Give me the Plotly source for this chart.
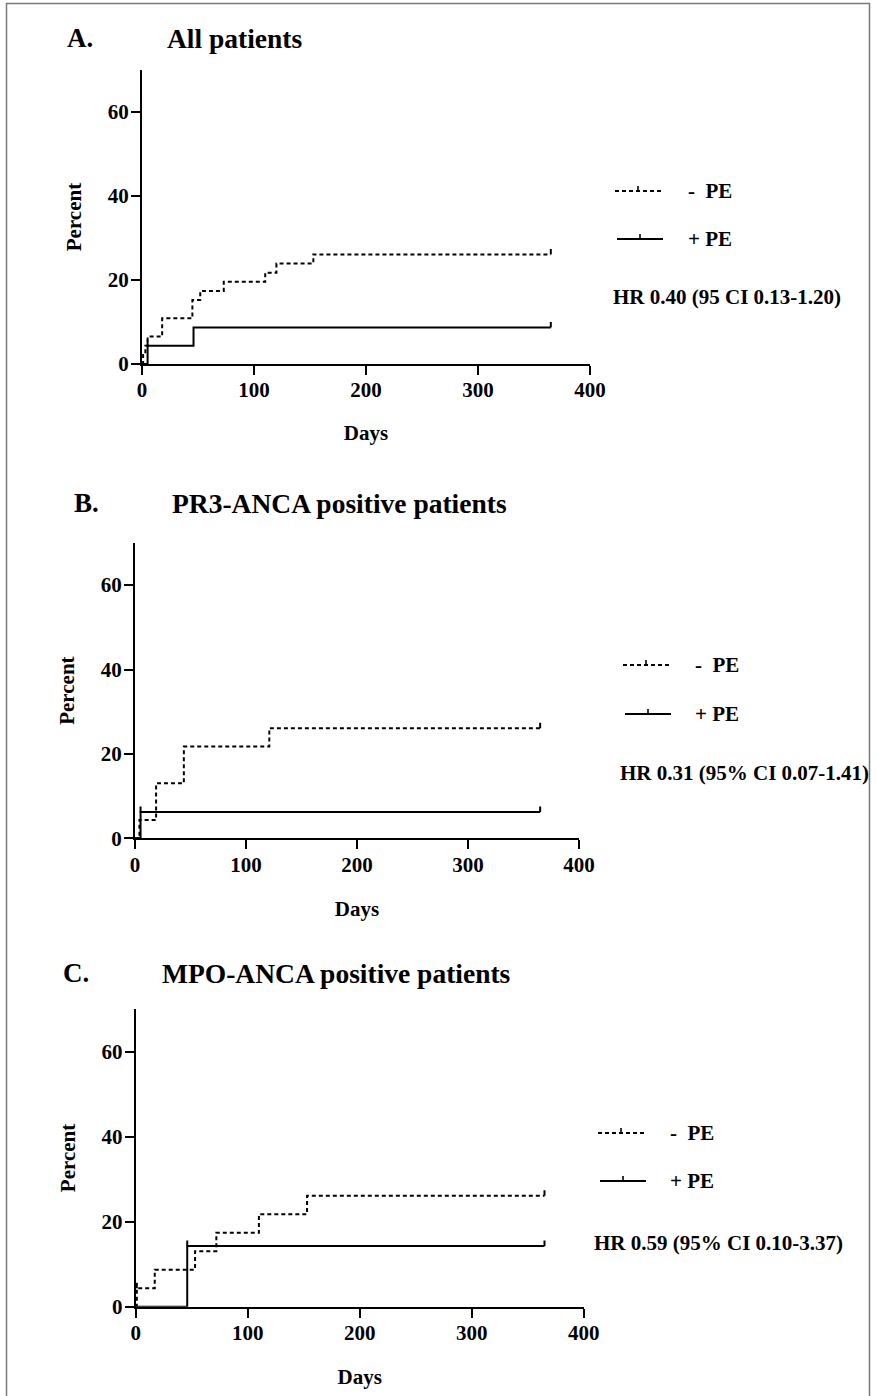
import plotly.graph_objects as go

W, H = 876, 1396

# ---------------- data ----------------
day_ticks = [0, 100, 200, 300, 400]
pct_ticks = [0, 20, 40, 60]

# Panel A - All patients
a_minus_t = [0, 1, 3, 5, 18, 45, 52, 73, 110, 120, 153, 365]
a_minus_y = [0, 2.17, 4.35, 6.52, 10.87, 15.22, 17.39, 19.57, 21.74, 23.91, 26.09, 26.09]
a_plus_t = [0, 5, 46, 365]
a_plus_y = [0, 4.35, 8.70, 8.70]
a_minus_cens = [365]
a_plus_cens = [5, 365]

# Panel B - PR3-ANCA positive
b_minus_t = [0, 4, 19, 44, 121, 365]
b_minus_y = [0, 4.35, 13.04, 21.74, 26.09, 26.09]
b_plus_t = [0, 5, 365]
b_plus_y = [0, 6.25, 6.25]
b_minus_cens = [365]
b_plus_cens = [5, 365]

# Panel C - MPO-ANCA positive
c_minus_t = [0, 1, 17, 53, 72, 110, 153, 365]
c_minus_y = [0, 4.35, 8.70, 13.04, 17.39, 21.74, 26.09, 26.09]
c_plus_t = [0, 46, 365]
c_plus_y = [0, 14.29, 14.29]
c_minus_cens = [1, 365]
c_plus_cens = [46, 365]

letters = ["A.", "B.", "C."]
titles = ["All patients", "PR3-ANCA positive patients", "MPO-ANCA positive patients"]
hr_texts = ["HR 0.40 (95 CI 0.13-1.20)",
            "HR 0.31 (95% CI 0.07-1.41)",
            "HR 0.59 (95% CI 0.10-3.37)"]
legend_labels = ["-  PE", "+ PE"]

# ---------------- layout geometry (pixels) ----------------
def px(x):
    return x / W

def py(y):
    return 1 - y / H

FONT = "Liberation Serif"
DASH = "4px,3px"
panels = [
    dict(minus=(a_minus_t, a_minus_y, a_minus_cens), plus=(a_plus_t, a_plus_y, a_plus_cens),
         x0=142, x1=590, yb=364, yt=70, xstand=24,
         letter_x=65, title_x=165, title_y=38,
         leg_x=615, leg_y1=191, leg_y2=239, leg_tx=686, hr_x=611, hr_y=297),
    dict(minus=(b_minus_t, b_minus_y, b_minus_cens), plus=(b_plus_t, b_plus_y, b_plus_cens),
         x0=135, x1=579, yb=838.3, yt=542.9, xstand=26,
         letter_x=72, title_x=170, title_y=503,
         leg_x=623, leg_y1=665, leg_y2=714, leg_tx=693, hr_x=618, hr_y=773),
    dict(minus=(c_minus_t, c_minus_y, c_minus_cens), plus=(c_plus_t, c_plus_y, c_plus_cens),
         x0=135.7, x1=583.7, yb=1306.7, yt=1009.2, xstand=25,
         letter_x=61, title_x=160, title_y=973,
         leg_x=598, leg_y1=1133, leg_y2=1181, leg_tx=668, hr_x=592, hr_y=1243),
]

TICK_PCT = 1.3  # censor tick height in percent units

def level_at(ts, ys, c):
    lv = ys[0]
    for t, y in zip(ts, ys):
        if t <= c:
            lv = y
    return lv

fig = go.Figure()
shapes = []
annotations = []
layout_axes = {}

for i, p in enumerate(panels):
    n = "" if i == 0 else str(i + 1)
    xa, ya = "x" + n, "y" + n
    for key, dash, name in [("minus", DASH, legend_labels[0]), ("plus", "solid", legend_labels[1])]:
        ts, ys, cens = p[key]
        fig.add_trace(go.Scatter(x=ts, y=ys, mode="lines", line_shape="hv",
                                 line=dict(color="black", width=2, dash=dash),
                                 name=name, showlegend=False, xaxis=xa, yaxis=ya,
                                 cliponaxis=False))
        cx, cy = [], []
        for c in cens:
            lv = level_at(ts, ys, c)
            cx += [c, c, None]
            cy += [lv, lv + TICK_PCT, None]
        fig.add_trace(go.Scatter(x=cx, y=cy, mode="lines",
                                 line=dict(color="black", width=2),
                                 showlegend=False, xaxis=xa, yaxis=ya, hoverinfo="skip",
                                 cliponaxis=False))
    common = dict(showline=True, linewidth=2, linecolor="black", ticks="outside",
                  ticklen=9, tickwidth=2, tickcolor="black", showgrid=False, zeroline=False,
                  tickfont=dict(family=FONT, size=21, color="black", weight="bold"),
                  fixedrange=True)
    layout_axes["xaxis" + n] = dict(common, domain=[px(p["x0"]), px(p["x1"])], range=[0, 400],
                                    tickvals=day_ticks, anchor=ya, ticklabelstandoff=-3,
                                    title=dict(text="Days", standoff=p["xstand"],
                                               font=dict(family=FONT, size=21, color="black", weight="bold")))
    layout_axes["yaxis" + n] = dict(common, domain=[py(p["yb"]), py(p["yt"])], range=[0, 70],
                                    tickvals=pct_ticks, anchor=xa, ticklabelstandoff=-2,
                                    title=dict(text="Percent", standoff=20,
                                               font=dict(family=FONT, size=21, color="black", weight="bold")))
    # panel titles
    annotations.append(dict(text=letters[i], x=px(p["letter_x"]), y=py(p["title_y"]), xref="paper", yref="paper",
                            xanchor="left", yanchor="middle", showarrow=False,
                            font=dict(family=FONT, size=27, color="black", weight="bold")))
    annotations.append(dict(text=titles[i], x=px(p["title_x"]), y=py(p["title_y"]), xref="paper", yref="paper",
                            xanchor="left", yanchor="middle", showarrow=False,
                            font=dict(family=FONT, size=27.5, color="black", weight="bold")))
    # legend samples
    lx0, lx1 = p["leg_x"], p["leg_x"] + 46
    mid = (lx0 + lx1) / 2
    shapes.append(dict(type="line", xref="paper", yref="paper", x0=px(lx0), x1=px(lx1),
                       y0=py(p["leg_y1"]), y1=py(p["leg_y1"]),
                       line=dict(color="black", width=1.8, dash=DASH)))
    shapes.append(dict(type="line", xref="paper", yref="paper", x0=px(mid), x1=px(mid),
                       y0=py(p["leg_y1"]), y1=py(p["leg_y1"] - 5), line=dict(color="black", width=1.6)))
    shapes.append(dict(type="line", xref="paper", yref="paper", x0=px(lx0 + 2), x1=px(lx1 + 2),
                       y0=py(p["leg_y2"]), y1=py(p["leg_y2"]), line=dict(color="black", width=2)))
    shapes.append(dict(type="line", xref="paper", yref="paper", x0=px(mid + 2), x1=px(mid + 2),
                       y0=py(p["leg_y2"]), y1=py(p["leg_y2"] - 5), line=dict(color="black", width=1.6)))
    for lab, yy in zip(legend_labels, [p["leg_y1"], p["leg_y2"]]):
        annotations.append(dict(text=lab, x=px(p["leg_tx"]), y=py(yy), xref="paper", yref="paper",
                                xanchor="left", yanchor="middle", showarrow=False,
                                font=dict(family=FONT, size=21, color="black", weight="bold")))
    annotations.append(dict(text=hr_texts[i], x=px(p["hr_x"]), y=py(p["hr_y"]), xref="paper", yref="paper",
                            xanchor="left", yanchor="middle", showarrow=False,
                            font=dict(family=FONT, size=21, color="black", weight="bold")))

# outer frame
shapes.append(dict(type="rect", xref="paper", yref="paper", x0=px(6.5), x1=px(869.5), y0=py(1398), y1=py(3.5),
                   line=dict(color="#7a7a7a", width=1.5), fillcolor="rgba(0,0,0,0)", layer="below"))

fig.update_layout(width=W, height=H, autosize=False, margin=dict(l=0, r=0, t=0, b=0),
                  paper_bgcolor="white", plot_bgcolor="white", template="none",
                  showlegend=False, shapes=shapes, annotations=annotations, **layout_axes)

fig.write_html("out.html", config={"displayModeBar": False},
               post_script="document.body.style.margin='0';")
